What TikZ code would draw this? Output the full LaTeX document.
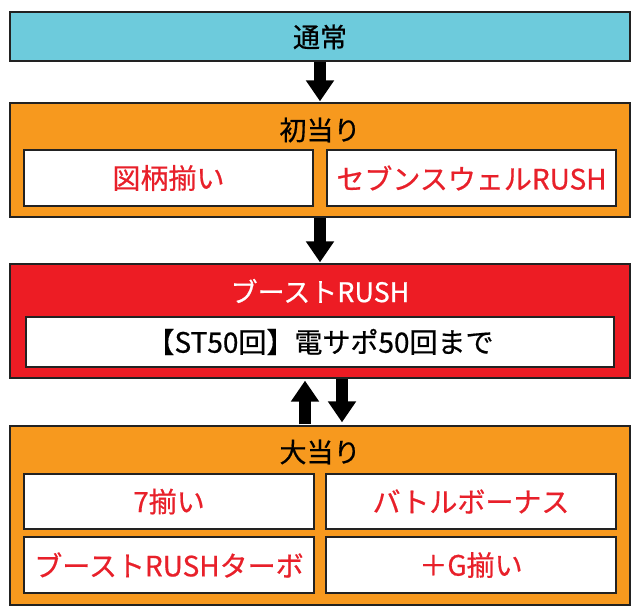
\documentclass[tikz,border=0pt]{standalone}
\usepackage{fontspec}
\setmainfont{Noto Sans CJK JP}[FakeBold=0.6]
\usetikzlibrary{arrows.meta}
\definecolor{cyanbox}{HTML}{6DCBDC}
\definecolor{orangebox}{HTML}{F7991E}
\definecolor{redbox}{HTML}{ED1C24}
\definecolor{redtext}{HTML}{E8202A}
\definecolor{edge}{HTML}{222222}
\tikzset{
  panel/.style={draw=edge, line width=1.3pt, inner sep=0pt, anchor=center},
  wbox/.style={panel, fill=white, font=\fontsize{28pt}{32pt}\selectfont, text=redtext},
  ttl/.style={inner sep=0pt, anchor=center, font=\fontsize{27pt}{30pt}\selectfont},
  blockarrow/.style={line width=12pt, -{Triangle[width=27pt,length=21pt]}, black}
}
\begin{document}
\begin{tikzpicture}[x=1pt,y=-1pt]
\useasboundingbox (0,0) rectangle (640,615);
% top
\node[panel, fill=cyanbox, minimum width=620pt, minimum height=49pt] (normal) at (320,36.5) {};
\node[ttl] (normalt) at (320,37) {通常};
% first hit
\node[panel, fill=orangebox, minimum width=620pt, minimum height=114pt] (first) at (320,160) {};
\node[ttl] (firstt) at (320,130) {初当り};
\node[wbox, minimum width=289pt, minimum height=56pt] (f1) at (168.5,178) {図柄揃い};
\node[wbox, minimum width=289pt, minimum height=56pt] (f2) at (471.5,178) {セブンスウェルRUSH};
% boost rush
\node[panel, fill=redbox, minimum width=620pt, minimum height=114pt] (boost) at (320,321) {};
\node[ttl, text=white] (boostt) at (320,291) {ブーストRUSH};
\node[wbox, text=black, minimum width=588pt, minimum height=50pt] (b1) at (320,342) {【ST50回】電サポ50回まで};
% big hit
\node[panel, fill=orangebox, minimum width=620pt, minimum height=179pt] (big) at (320,515.5) {};
\node[ttl] (bigt) at (320,452) {大当り};
\node[wbox, minimum width=290pt, minimum height=55pt] (g1) at (169,501.5) {7揃い};
\node[wbox, minimum width=290pt, minimum height=55pt] (g2) at (471,501.5) {バトルボーナス};
\node[wbox, minimum width=290pt, minimum height=56pt] (g3) at (169,565) {ブーストRUSHターボ};
\node[wbox, minimum width=290pt, minimum height=56pt] (g4) at (471,565) {＋G揃い};
% arrows
\draw[blockarrow] ([yshift=-0.5pt]normal.south) -- ([yshift=1pt]first.north);
\draw[blockarrow] ([yshift=-0.5pt]first.south) -- ([yshift=1pt]boost.north);
\draw[blockarrow] ([xshift=-15pt,yshift=1pt]big.north) -- ([xshift=-15pt,yshift=-2pt]boost.south);
\draw[blockarrow] ([xshift=22pt,yshift=-0.5pt]boost.south) -- ([xshift=22pt,yshift=3pt]big.north);
\end{tikzpicture}
\end{document}
